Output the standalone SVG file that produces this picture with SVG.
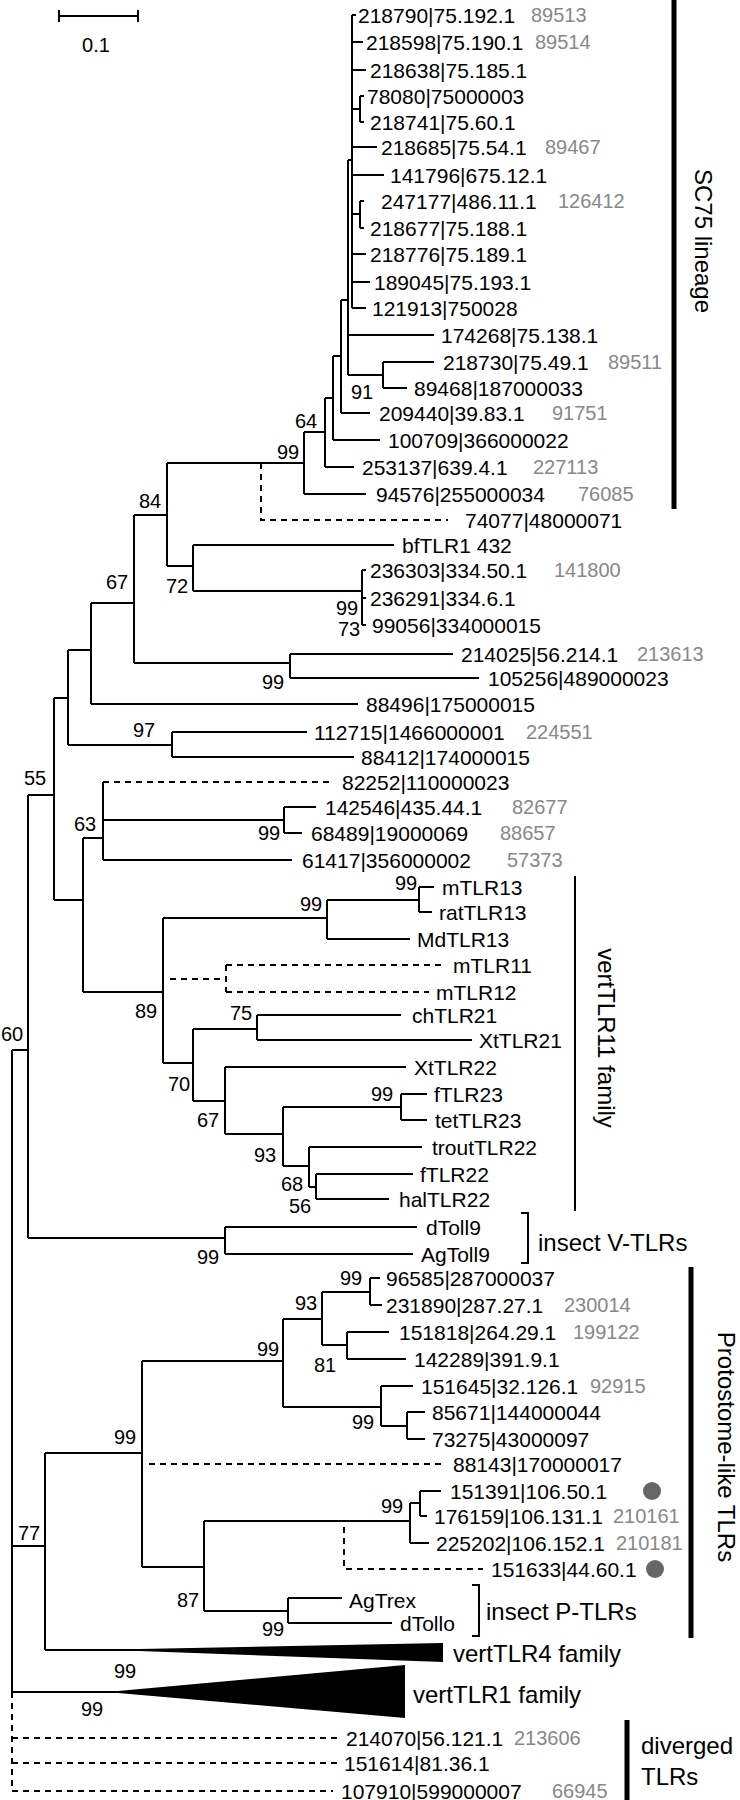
<svg xmlns="http://www.w3.org/2000/svg" width="740" height="1800" viewBox="0 0 740 1800">
<style>
.e{fill:none;stroke:#000;stroke-width:2}
.d{fill:none;stroke:#000;stroke-width:2;stroke-dasharray:6 5}
.bar{stroke:#000;stroke-width:5}
text{font-family:"Liberation Sans",Arial,sans-serif;fill:#000}
.t{font-size:21px}
.g text{font-size:20px;fill:#888}
.b{font-size:20px;text-anchor:middle}
.L{font-size:24px}
.R{font-size:24px;text-anchor:middle}
</style>
<rect width="740" height="1800" fill="#fff"/>
<g id="scale"><path class="e" d="M59 10V22M59 16H138M138 10V22"/><text class="b" x="96" y="52">0.1</text></g>
<g id="connectors">
<path class="e" d="M352 15V308M352 15H356M352 42H363M352 70H366M352 109H360M360 96V122M360 96H364M360 122H364M352 147H377M352 175H384M352 214H360M360 201V228M360 201H364M360 228H364M352 254H366M352 282H370M352 308H366"/>
<path class="e" d="M348 160V375M348 160H352M348 335H434M348 375H383M383 362V388M383 362H434M383 388H407"/>
<path class="e" d="M341 300V413M341 300H348M341 413H370M333 356V440M333 356H341M333 440H380M325 398V467M325 398H333M325 467H354M304 432V494M304 432H325M304 494H366"/>
<path class="e" d="M167 463H304M167 463V566M134 515H167M167 566H193M193 545V591M193 545H394M193 591H362M362 570V625M362 570H366M362 598H366M362 625H366"/>
<path class="d" d="M261 463V520H448"/>
<path class="e" d="M134 515V663M134 663H290M290 654V678M290 654H453M290 678H479M91 603H134M91 603V704M91 704H358M68 650H91M68 650V745M68 745H172M172 732V757M172 732H307M172 757H354"/>
<path class="e" d="M54 698H68M54 698V900M54 900H83M28 795H54M28 795V1238M28 1238H225"/>
<path class="e" d="M83 838V992M83 838H103M83 992H163M103 782V860M103 820H284M284 807V833M284 807H316M284 833H302M103 860H292"/>
<path class="d" d="M103 782H333M170 979H226M226 965V992M226 965H446M226 992H429"/>
<path class="e" d="M163 918V1063M163 918H327M327 900V939M327 900H419M419 887V912M419 887H434M419 912H432M327 939H410M163 1063H193M193 1029V1101M193 1029H257M257 1015V1040M257 1015H401M257 1040H472M193 1101H225M225 1067V1134M225 1067H406M225 1134H283M283 1107V1166M283 1107H401M401 1094V1120M401 1094H427M401 1120H427M283 1166H309M309 1147V1187M309 1147H422M309 1187H316M316 1174V1199M316 1174H413M316 1199H389"/>
<path class="e" d="M225 1227V1254M225 1227H417M225 1254H413"/>
<path class="e" d="M12 1050V1692M12 1050H28M12 1546H45M12 1692H118M45 1453V1650M45 1453H142M45 1650H139"/>
<path class="d" d="M12 1692V1791M12 1738H337M12 1763H337M12 1791H333"/>
<path class="e" d="M142 1361V1567M142 1361H283M283 1319V1407M283 1319H322M322 1292V1345M322 1292H370M370 1278V1305M370 1278H380M370 1305H382M322 1345H347M347 1332V1359M347 1332H389M347 1359H406M283 1407H381M381 1386V1426M381 1386H413M381 1426H407M407 1412V1439M407 1412H425M407 1439H425"/>
<path class="d" d="M149 1464H441M344 1527V1569H483"/>
<path class="e" d="M142 1567H204M204 1521V1611M204 1521H410M410 1503V1543M410 1503H420M420 1491V1516M420 1491H441M420 1516H427M410 1543H429M204 1611H288M288 1598V1623M288 1598H342M288 1623H392"/>
<path class="e" d="M521 1213H528V1263H521M472 1585H479V1636H472"/>
</g>
<g id="vertTLR4"><polygon points="139,1649 443,1643 443,1662 139,1651"/><text class="L" x="453" y="1662">vertTLR4 family</text></g>
<g id="vertTLR1"><polygon points="118,1691 405,1665 405,1718 118,1693"/><text class="L" x="413" y="1703">vertTLR1 family</text></g>
<g id="bars">
<line class="bar" x1="674" y1="0" x2="674" y2="509"/>
<line x1="575" y1="876" x2="575" y2="1211" stroke="#000" stroke-width="2"/>
<line class="bar" x1="691" y1="1267" x2="691" y2="1638"/>
<line class="bar" x1="627" y1="1720" x2="627" y2="1800"/>
<text class="R" transform="translate(703,241) rotate(90)" y="8">SC75 lineage</text>
<text class="R" transform="translate(606,1038) rotate(90)" y="8">vertTLR11 family</text>
<text class="R" transform="translate(726,1447) rotate(90)" y="8">Protostome-like TLRs</text>
<text class="L" x="538" y="1251">insect V-TLRs</text>
<text class="L" x="486" y="1620">insect P-TLRs</text>
<text class="L" x="641" y="1754">diverged</text>
<text class="L" x="641" y="1785">TLRs</text>
</g>
<g id="leaves" class="t">
<text x="358" y="23">218790|75.192.1</text>
<text x="366" y="50">218598|75.190.1</text>
<text x="370" y="78">218638|75.185.1</text>
<text x="367" y="104">78080|75000003</text>
<text x="370" y="130">218741|75.60.1</text>
<text x="381" y="155">218685|75.54.1</text>
<text x="390" y="183">141796|675.12.1</text>
<text x="381" y="209">247177|486.11.1</text>
<text x="370" y="236">218677|75.188.1</text>
<text x="370" y="262">218776|75.189.1</text>
<text x="374" y="290">189045|75.193.1</text>
<text x="372" y="316">121913|750028</text>
<text x="441" y="343">174268|75.138.1</text>
<text x="443" y="370">218730|75.49.1</text>
<text x="414" y="396">89468|187000033</text>
<text x="379" y="421">209440|39.83.1</text>
<text x="388" y="448">100709|366000022</text>
<text x="362" y="475">253137|639.4.1</text>
<text x="376" y="502">94576|255000034</text>
<text x="465" y="528">74077|48000071</text>
<text x="402" y="553">bfTLR1 432</text>
<text x="370" y="578">236303|334.50.1</text>
<text x="370" y="606">236291|334.6.1</text>
<text x="372" y="633">99056|334000015</text>
<text x="461" y="662">214025|56.214.1</text>
<text x="488" y="686">105256|489000023</text>
<text x="366" y="712">88496|175000015</text>
<text x="314" y="740">112715|1466000001</text>
<text x="361" y="765">88412|174000015</text>
<text x="342" y="790">82252|110000023</text>
<text x="325" y="815">142546|435.44.1</text>
<text x="311" y="841">68489|19000069</text>
<text x="302" y="868">61417|356000002</text>
<text x="442" y="895">mTLR13</text>
<text x="439" y="920">ratTLR13</text>
<text x="417" y="947">MdTLR13</text>
<text x="453" y="973">mTLR11</text>
<text x="436" y="1000">mTLR12</text>
<text x="412" y="1023">chTLR21</text>
<text x="479" y="1048">XtTLR21</text>
<text x="414" y="1075">XtTLR22</text>
<text x="434" y="1102">fTLR23</text>
<text x="435" y="1128">tetTLR23</text>
<text x="432" y="1155">troutTLR22</text>
<text x="420" y="1182">fTLR22</text>
<text x="399" y="1207">halTLR22</text>
<text x="426" y="1235">dToll9</text>
<text x="421" y="1262">AgToll9</text>
<text x="386" y="1286">96585|287000037</text>
<text x="386" y="1313">231890|287.27.1</text>
<text x="399" y="1340">151818|264.29.1</text>
<text x="414" y="1367">142289|391.9.1</text>
<text x="421" y="1394">151645|32.126.1</text>
<text x="432" y="1420">85671|144000044</text>
<text x="432" y="1447">73275|43000097</text>
<text x="453" y="1472">88143|170000017</text>
<text x="450" y="1499">151391|106.50.1</text>
<text x="434" y="1524">176159|106.131.1</text>
<text x="436" y="1551">225202|106.152.1</text>
<text x="491" y="1577">151633|44.60.1</text>
<text x="349" y="1608">AgTrex</text>
<text x="400" y="1631">dTollo</text>
<text x="346" y="1746">214070|56.121.1</text>
<text x="344" y="1771">151614|81.36.1</text>
<text x="341" y="1799">107910|599000007</text>
</g>
<g id="ids" class="g">
<text x="531" y="22">89513</text><text x="535" y="49">89514</text><text x="545" y="154">89467</text>
<text x="558" y="208">126412</text><text x="608" y="369">89511</text><text x="552" y="420">91751</text>
<text x="533" y="474">227113</text><text x="578" y="501">76085</text><text x="554" y="577">141800</text>
<text x="637" y="661">213613</text><text x="526" y="739">224551</text><text x="512" y="814">82677</text>
<text x="500" y="840">88657</text><text x="507" y="867">57373</text><text x="564" y="1312">230014</text>
<text x="573" y="1339">199122</text><text x="590" y="1393">92915</text><text x="613" y="1523">210161</text>
<text x="616" y="1550">210181</text><text x="514" y="1745">213606</text><text x="552" y="1798">66945</text>
</g>
<g id="dots" fill="#666"><circle cx="652" cy="1491" r="9"/><circle cx="655" cy="1569" r="9"/></g>
<g id="bootstrap" class="b">
<text x="306" y="428">64</text><text x="288" y="459">99</text><text x="150" y="508">84</text>
<text x="117" y="589">67</text><text x="177" y="593">72</text><text x="362" y="399">91</text>
<text x="347" y="615">99</text><text x="349" y="636">73</text><text x="273" y="689">99</text>
<text x="144" y="737">97</text><text x="35" y="785">55</text><text x="85" y="831">63</text>
<text x="269" y="840">99</text><text x="406" y="890">99</text><text x="311" y="911">99</text>
<text x="146" y="1018">89</text><text x="241" y="1020">75</text><text x="179" y="1091">70</text>
<text x="382" y="1101">99</text><text x="208" y="1127">67</text><text x="265" y="1162">93</text>
<text x="292" y="1191">68</text><text x="300" y="1213">56</text><text x="12" y="1041">60</text>
<text x="208" y="1264">99</text><text x="351" y="1285">99</text><text x="306" y="1310">93</text>
<text x="268" y="1356">99</text><text x="325" y="1372">81</text><text x="363" y="1429">99</text>
<text x="125" y="1444">99</text><text x="29" y="1540">77</text><text x="392" y="1513">99</text>
<text x="188" y="1607">87</text><text x="273" y="1636">99</text><text x="125" y="1678">99</text>
<text x="92" y="1716">99</text>
</g>
</svg>
